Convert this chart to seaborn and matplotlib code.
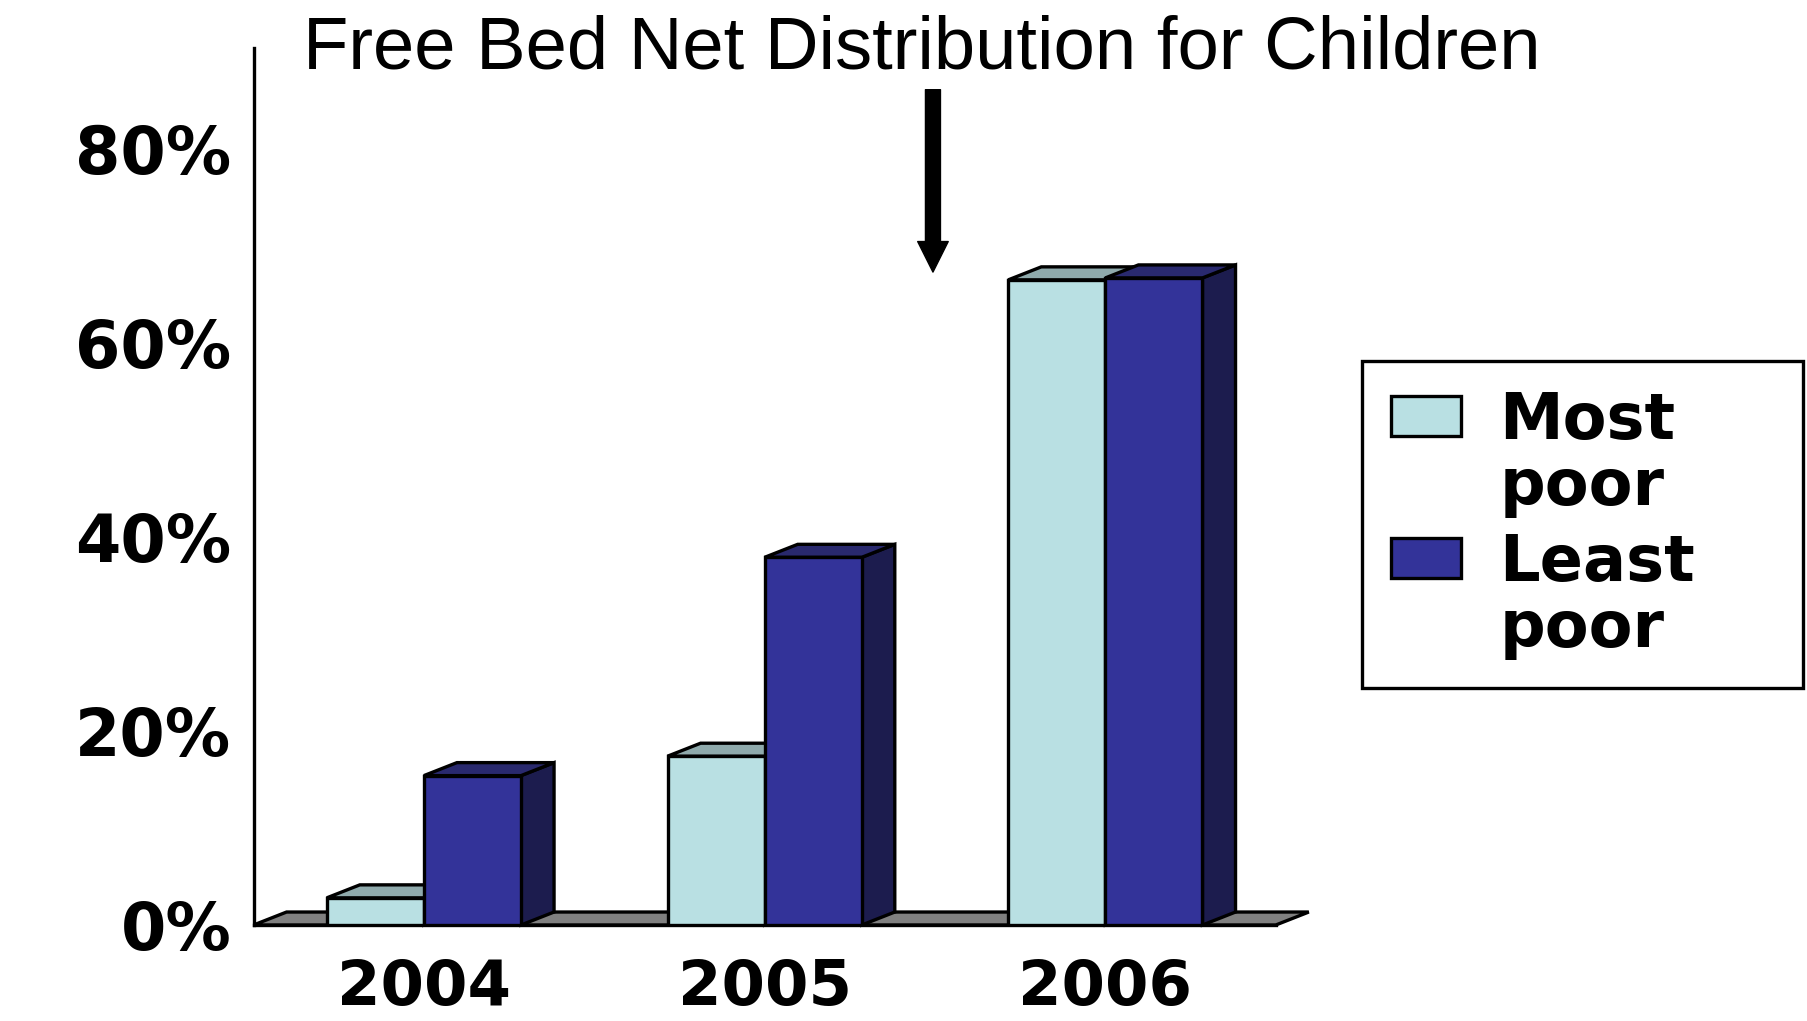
import numpy as np
import pandas as pd
import matplotlib.pyplot as plt
import seaborn as sns
from matplotlib.patches import Polygon, Patch, Rectangle
from matplotlib.legend_handler import HandlerPatch

# data
years = ['2004', '2005', '2006']
most_poor = [2.8, 17.4, 66.5]
least_poor = [15.4, 37.9, 66.7]
groups = ['Most\npoor', 'Least\npoor']
y_ticks = [0, 20, 40, 60, 80]
title = 'Free Bed Net Distribution for Children'

front_colors = ['#B9E0E3', '#333399']
top_colors = ['#8FAAAC', '#29296E']
side_colors = ['#7E9B9D', '#1C1C4E']

df = pd.DataFrame({
    'year': years * 2,
    'value': most_poor + least_poor,
    'group': [groups[0]] * 3 + [groups[1]] * 3,
})

sns.set_style('white')
plt.rcParams['font.family'] = ['DejaVu Sans']
plt.rcParams['text.color'] = 'black'
plt.rcParams['xtick.color'] = 'black'
plt.rcParams['ytick.color'] = 'black'
plt.rcParams['axes.labelcolor'] = 'black'

fig = plt.figure(figsize=(18.07, 10.21), dpi=100)
ax = fig.add_axes([0.1403, 0.094, 0.5657, 0.859])

lw = 2.4
sns.barplot(data=df, x='year', y='value', hue='group', palette=front_colors,
            width=0.57, edgecolor='black', linewidth=lw, saturation=1,
            legend=False, ax=ax, zorder=3)

# fake 3D depth (data units)
dx, dy = 0.097, 1.34

# floor
floor = Polygon([(-0.5, 0), (-0.5 + dx, dy), (2.5 + dx, dy), (2.5, 0)],
                closed=True, facecolor='#808080', edgecolor='black',
                linewidth=lw, zorder=1, clip_on=False)
ax.add_patch(floor)

# top and side faces from the bars seaborn drew
for i, cont in enumerate(ax.containers):
    for rect in cont:
        x0, w, h = rect.get_x(), rect.get_width(), rect.get_height()
        top = Polygon([(x0, h), (x0 + dx, h + dy), (x0 + w + dx, h + dy), (x0 + w, h)],
                      closed=True, facecolor=top_colors[i], edgecolor='black',
                      linewidth=lw, zorder=2, clip_on=False, joinstyle='miter')
        side = Polygon([(x0 + w, 0), (x0 + w, h), (x0 + w + dx, h + dy), (x0 + w + dx, dy)],
                       closed=True, facecolor=side_colors[i], edgecolor='black',
                       linewidth=lw, zorder=2, clip_on=False, joinstyle='miter')
        ax.add_patch(side)
        ax.add_patch(top)

ax.set_xlim(-0.5, 2.5)
ax.set_ylim(0, 90.4)
ax.set_xlabel('')
ax.set_ylabel('')

for s in ['top', 'right']:
    ax.spines[s].set_visible(False)
for s in ['left', 'bottom']:
    ax.spines[s].set_linewidth(lw)
    ax.spines[s].set_color('black')

ax.set_yticks(y_ticks, labels=[f'{v}%' for v in y_ticks])
ax.tick_params(axis='y', length=14, width=1.5, direction='out', pad=2,
               labelsize=47, color='black', labelcolor='black')
for t in ax.get_yticklabels():
    t.set_fontweight('bold')

ax.set_xticks([-0.5, 0.5, 1.5, 2.5], labels=[])
ax.set_xticks([0, 1, 2], labels=years, minor=True)
ax.tick_params(axis='x', which='major', length=9, width=lw, direction='out', color='black')
ax.tick_params(axis='x', which='minor', length=0, pad=24, labelsize=45, labelcolor='black')
for t in ax.get_xticklabels(minor=True):
    t.set_fontweight('bold')

# arrow marking the free distribution
ax.annotate('', xy=(1.494, 67.3), xytext=(1.494, 86.1),
            arrowprops=dict(facecolor='black', edgecolor='black', width=10.8,
                            headwidth=22, headlength=22, shrink=0),
            annotation_clip=False)

fig.text(303 / 1807, 1 - 68 / 1021, title, fontsize=53.5, color='black',
         family=['Liberation Sans', 'DejaVu Sans'], ha='left', va='baseline')


# legend swatch sits level with the first line of its two-line label
def top_swatch(legend, orig_handle, xdescent, ydescent, width, height, fontsize):
    return Rectangle((-xdescent, -ydescent + 0.62 * fontsize), width, height)


handles = [Patch(facecolor=c, edgecolor='black', linewidth=lw) for c in front_colors]
leg = fig.legend(handles, groups, loc='upper left',
                 bbox_to_anchor=(1362 / 1807, 1 - 682 / 1021, 441 / 1807, 321 / 1021),
                 mode='expand', frameon=True, fancybox=False, edgecolor='black',
                 framealpha=1, prop={'weight': 'bold', 'size': 46}, handlelength=1.1,
                 handleheight=0.6, handletextpad=0.6, borderpad=0.45,
                 labelspacing=0.22, borderaxespad=0,
                 handler_map={Patch: HandlerPatch(patch_func=top_swatch)})
leg.get_frame().set_linewidth(lw)
for t in leg.get_texts():
    t.set_linespacing(1.08)
    t.set_color('black')

fig.savefig('out.png', dpi=100)
